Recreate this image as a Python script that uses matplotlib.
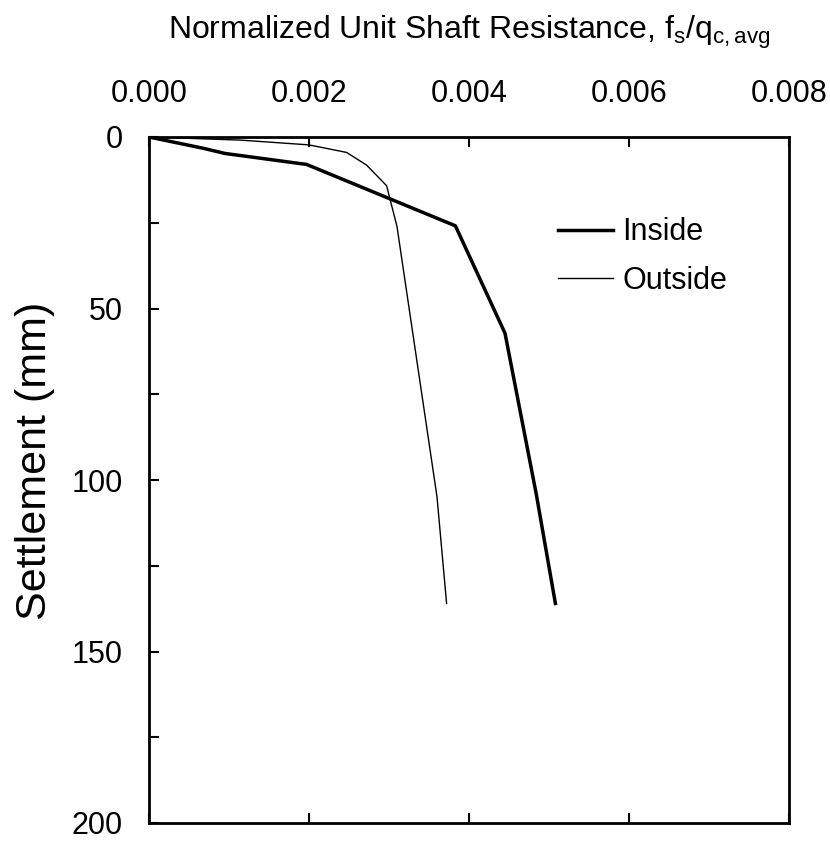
import matplotlib
matplotlib.use("Agg")
import matplotlib.pyplot as plt
from matplotlib.ticker import MultipleLocator

plt.rcParams["font.family"] = ["Liberation Sans", "DejaVu Sans"]
plt.rcParams["mathtext.fontset"] = "custom"
plt.rcParams["mathtext.rm"] = "Liberation Sans"
plt.rcParams["mathtext.it"] = "Liberation Sans"

# Inside (thick) curve: normalized shaft resistance vs settlement (mm)
inside_fs = [0.0, 0.00068, 0.00095, 0.00197, 0.00383, 0.00445, 0.00484, 0.00508]
inside_settle = [0.0, 3.3, 4.8, 8.0, 25.9, 57.2, 104.0, 136.0]

# Outside (thin) curve
outside_fs = [0.0, 0.00114, 0.0020, 0.00247, 0.00272, 0.00297, 0.0031, 0.0036, 0.00372]
outside_settle = [0.0, 0.9, 2.3, 4.5, 8.2, 14.2, 26.1, 104.9, 136.0]

x_ticks = [0.000, 0.002, 0.004, 0.006, 0.008]
x_labels = ["0.000", "0.002", "0.004", "0.006", "0.008"]
y_ticks = [0, 50, 100, 150, 200]

fig = plt.figure(figsize=(8.3, 8.41), dpi=100)
ax = fig.add_axes([149 / 830, 1 - 823 / 841, 640 / 830, 686 / 841])

ax.plot(inside_fs, inside_settle, color="black", lw=2.5, label="Inside")
ax.plot(outside_fs, outside_settle, color="black", lw=1.0, label="Outside")

ax.set_xlim(0, 0.008)
ax.set_ylim(200, 0)

ax.xaxis.tick_top()
ax.set_xticks(x_ticks)
ax.set_xticklabels(x_labels)
ax.set_yticks(y_ticks)
ax.yaxis.set_minor_locator(MultipleLocator(25))

ax.tick_params(axis="x", which="major", direction="in", length=7, width=1.5,
               top=True, bottom=True, labeltop=True, labelbottom=False,
               labelsize=22, pad=20)
ax.tick_params(axis="y", which="both", direction="in", length=7, width=1.5,
               left=True, right=False, labelsize=22, pad=19)

for sp in ax.spines.values():
    sp.set_linewidth(2.0)

ax.xaxis.set_label_position("top")
ax.set_xlabel(r"Normalized Unit Shaft Resistance, f$_\mathrm{s}$/q$_\mathrm{c,avg}$",
              fontsize=23, labelpad=29)
ax.set_ylabel("Settlement (mm)", fontsize=31)
# label sits a little above the axis middle in the original
ax.yaxis.set_label_coords(-0.147, 0.528)

leg = ax.legend(loc="center left", bbox_to_anchor=(0.639, 0.826), frameon=False,
                fontsize=22, handlelength=1.8, handletextpad=0.3,
                labelspacing=0.6, borderpad=0, borderaxespad=0)

fig.savefig("out.png", dpi=100)
